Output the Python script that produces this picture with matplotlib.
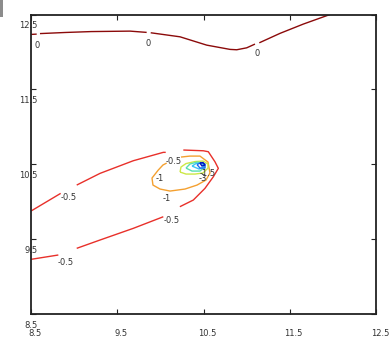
import numpy as np
import matplotlib
matplotlib.use('Agg')
import matplotlib.pyplot as plt
from matplotlib.transforms import ScaledTranslation
from matplotlib.patches import Rectangle

nan = np.nan

# contour levels and line data (NaN separates pieces broken by labels)
levels = [0, -0.5, -1, -1.5, -2, -2.5, -3, -3.5]
level_colors = ['#8b0a0a', '#e8302a', '#f4a030', '#cce846', '#58e0b0', '#3cc4f4', '#2070f0', '#0018c0']

lvl0_x = [8.5, 8.566, nan, 8.604, 8.9, 9.2, 9.648, 9.841, nan, 9.888, 10.228, 10.537, 10.807, 10.885, 11.001, 11.097, nan, 11.147, 11.387, 11.657, 11.967]
lvl0_y = [12.234, 12.238, nan, 12.245, 12.26, 12.272, 12.278, 12.261, nan, 12.256, 12.202, 12.091, 12.034, 12.029, 12.055, 12.105, nan, 12.122, 12.248, 12.372, 12.5]

lvl05_x = [8.5, 8.844, nan, 9.030, 9.3, 9.686, 10.034, 10.062, nan, 10.266, 10.498, 10.556, 10.633, 10.672, 10.614, 10.517, 10.382, 10.226, nan,
           10.034, 9.686, 9.3, 9.030, nan, 8.817, 8.5]
lvl05_y = [9.875, 10.111, nan, 10.222, 10.378, 10.547, 10.659, 10.659, nan, 10.690, 10.680, 10.667, 10.533, 10.445, 10.333, 10.178, 10.022, 9.933, nan,
           9.799, 9.644, 9.488, 9.377, nan, 9.288, 9.23]

lvl1_x = [10.073, 10.030, 9.976, 9.903, 9.914, 9.996, 10.112, 10.286, 10.425, 10.529, 10.575, 10.552, 10.459, 10.343, 10.239]
lvl1_y = [10.516, 10.49, 10.423, 10.316, 10.222, 10.169, 10.142, 10.169, 10.222, 10.289, 10.383, 10.529, 10.609, 10.609, 10.596]

lvl15_x = [10.228, 10.239, 10.297, 10.401, 10.494, 10.552, 10.552, 10.494, 10.401, 10.297, 10.228]
lvl15_y = [10.396, 10.463, 10.509, 10.536, 10.543, 10.503, 10.449, 10.383, 10.369, 10.369, 10.396]

lvl2_x = [10.297, 10.343, 10.425, 10.494, 10.517, 10.459, 10.367, 10.297]
lvl2_y = [10.449, 10.503, 10.529, 10.516, 10.463, 10.409, 10.409, 10.449]

lvl25_x = [10.367, 10.413, 10.483, 10.506, 10.448, 10.367]
lvl25_y = [10.476, 10.509, 10.516, 10.463, 10.436, 10.476]

lvl3_x = [10.425, 10.471, 10.517, 10.517, 10.459, 10.425]
lvl3_y = [10.496, 10.523, 10.503, 10.449, 10.449, 10.496]

lvl35_x = [10.459, 10.494, 10.517, 10.483, 10.459]
lvl35_y = [10.516, 10.523, 10.489, 10.476, 10.516]

# label text and positions
lab_text = ['0', '0', '0', '-0.5', '-0.5', '-0.5', '-0.5', '-1', '-1', '-1.5', '-3']
lab_x = [8.566, 9.857, 11.124, 8.94, 10.158, 10.135, 8.906, 9.996, 10.073, 10.552, 10.494]
lab_y = [12.09, 12.118, 11.98, 10.05, 10.543, 9.755, 9.194, 10.316, 10.039, 10.383, 10.316]

xticks = [8.5, 9.5, 10.5, 11.5, 12.5]
yticks = [8.5, 9.5, 10.5, 11.5, 12.5]

fig = plt.figure(figsize=(3.89, 3.48), dpi=100)
ax = fig.add_axes([31/389, 34/348, 345/389, 299.5/348])

series = [(lvl0_x, lvl0_y), (lvl05_x, lvl05_y), (lvl1_x, lvl1_y), (lvl15_x, lvl15_y),
          (lvl2_x, lvl2_y), (lvl25_x, lvl25_y), (lvl3_x, lvl3_y), (lvl35_x, lvl35_y)]
for lev, col, (xs, ys) in zip(levels, level_colors, series):
    ax.plot(xs, ys, color=col, lw=1.0, solid_capstyle='butt')

for t, x, y in zip(lab_text, lab_x, lab_y):
    ax.text(x, y, t, fontsize=6, color='#333333', ha='center', va='center')

ax.set_xlim(8.5, 12.5)
ax.set_ylim(8.5, 12.5)
ax.set_xticks(xticks)
ax.set_yticks(yticks)
ax.set_xticklabels([str(v) for v in xticks])
ax.set_yticklabels([str(v) for v in yticks])
ax.tick_params(direction='in', length=3.5, width=0.8, labelsize=6, colors='#222222',
               top=True, right=True, labelcolor='#333333')
ax.tick_params(axis='y', pad=-5)
ax.tick_params(axis='x', pad=11)
for lab in ax.get_yticklabels():
    lab.set_transform(lab.get_transform() + ScaledTranslation(0, -10/100, fig.dpi_scale_trans))
for lab in ax.get_xticklabels():
    lab.set_transform(lab.get_transform() + ScaledTranslation(4/100, 0, fig.dpi_scale_trans))
for s in ax.spines.values():
    s.set_linewidth(1.3)
    s.set_color('#222222')

fig.patches.append(Rectangle((0, 1 - 17/348), 3/389, 17/348, transform=fig.transFigure,
                             facecolor='#8c8c8c', edgecolor='none'))

fig.savefig('out.png', dpi=100)
